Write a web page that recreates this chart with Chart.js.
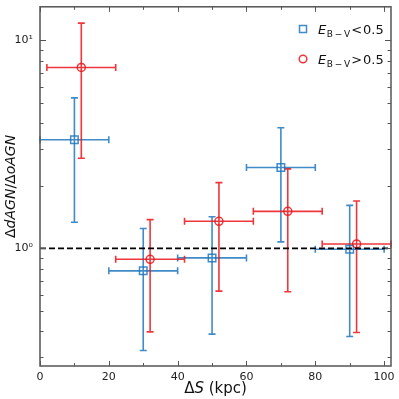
<!DOCTYPE html>
<html><head><meta charset="utf-8">
<script src="https://cdn.jsdelivr.net/npm/chart.js@4.4.0/dist/chart.umd.min.js"></script>
<style>html,body{margin:0;padding:0;background:#fff;}#wrap{width:399px;height:399px;}</style>
</head><body><div id="wrap"><canvas id="c" width="399" height="399"></canvas></div>
<script>
const xBlue = [10, 30, 50, 70, 90];
const yBlue = [3.33, 0.78, 0.90, 2.45, 0.99];
const yBlueLow = [1.335, 0.323, 0.387, 1.075, 0.377];
const yBlueHigh = [5.29, 1.246, 1.42, 3.80, 1.61];
const xErrBlue = [10, 10, 10, 10, 10];

const xRed = [12, 32, 52, 72, 92];
const yRed = [7.41, 0.886, 1.35, 1.507, 1.05];
const yRedLow = [2.71, 0.397, 0.623, 0.619, 0.394];
const yRedHigh = [12.1, 1.375, 2.07, 2.41, 1.69];
const xErrRed = [10, 10, 10, 10, 10];

const xTicks = [0, 20, 40, 60, 80, 100];
const xMinorTicks = [10, 30, 50, 70, 90];
const yMajorTicks = [1, 10];
const yMinorTicks = [0.3, 0.4, 0.5, 0.6, 0.7, 0.8, 0.9, 2, 3, 4, 5, 6, 7, 8, 9];
const refLine = 1;

const BLUE = 'rgba(31,119,190,0.85)';
const RED = 'rgba(235,20,25,0.85)';
const FRAME = '#555';

const blueData = xBlue.map((x, i) => ({x: x, y: yBlue[i], xe: xErrBlue[i], lo: yBlueLow[i], hi: yBlueHigh[i]}));
const redData = xRed.map((x, i) => ({x: x, y: yRed[i], xe: xErrRed[i], lo: yRedLow[i], hi: yRedHigh[i]}));

const custom = {
  id: 'custom',
  beforeDatasetsDraw(chart) {
    const ctx = chart.ctx, xs = chart.scales.x, ys = chart.scales.y;
    const cap = 3.5;
    [[blueData, BLUE], [redData, RED]].forEach(([data, col]) => {
      ctx.save();
      ctx.strokeStyle = col; ctx.lineWidth = 1.6;
      data.forEach(d => {
        const px = xs.getPixelForValue(d.x), py = ys.getPixelForValue(d.y);
        const x0 = xs.getPixelForValue(d.x - d.xe), x1 = xs.getPixelForValue(d.x + d.xe);
        const y0 = ys.getPixelForValue(d.lo), y1 = ys.getPixelForValue(d.hi);
        ctx.beginPath();
        ctx.moveTo(x0, py); ctx.lineTo(x1, py);
        ctx.moveTo(px, y0); ctx.lineTo(px, y1);
        ctx.moveTo(x0, py - cap); ctx.lineTo(x0, py + cap);
        ctx.moveTo(x1, py - cap); ctx.lineTo(x1, py + cap);
        ctx.moveTo(px - cap, y0); ctx.lineTo(px + cap, y0);
        ctx.moveTo(px - cap, y1); ctx.lineTo(px + cap, y1);
        ctx.stroke();
      });
      ctx.restore();
    });
  },
  afterDraw(chart) {
    const ctx = chart.ctx, xs = chart.scales.x, ys = chart.scales.y, a = chart.chartArea;
    ctx.save();
    ctx.strokeStyle = FRAME; ctx.lineWidth = 1.5;
    ctx.strokeRect(a.left, a.top, a.right - a.left, a.bottom - a.top);
    ctx.lineWidth = 1;
    ctx.beginPath();
    const tx = (vals, len) => vals.forEach(v => {
      const p = Math.round(xs.getPixelForValue(v)) + 0.5;
      ctx.moveTo(p, a.bottom); ctx.lineTo(p, a.bottom - len);
      ctx.moveTo(p, a.top); ctx.lineTo(p, a.top + len);
    });
    const ty = (vals, len) => vals.forEach(v => {
      const p = Math.round(ys.getPixelForValue(v)) + 0.5;
      ctx.moveTo(a.left, p); ctx.lineTo(a.left + len, p);
      ctx.moveTo(a.right, p); ctx.lineTo(a.right - len, p);
    });
    tx(xTicks, 5); tx(xMinorTicks, 3);
    ty(yMajorTicks, 6); ty(yMinorTicks, 3.5);
    ctx.stroke();

    ctx.fillStyle = '#111';
    ctx.textBaseline = 'alphabetic';
    const parts = [['Δ', '15px "DejaVu Sans"'], ['S', 'italic 15px "DejaVu Sans"'], [' (kpc)', '15px "DejaVu Sans"']];
    let w = 0; parts.forEach(p => { ctx.font = p[1]; w += ctx.measureText(p[0]).width; });
    let x = (a.left + a.right) / 2 - w / 2;
    parts.forEach(p => { ctx.font = p[1]; ctx.fillText(p[0], x, 393); x += ctx.measureText(p[0]).width; });
    const yparts = [['Δ', '14px "DejaVu Sans"'], ['dAGN', 'italic 14px "DejaVu Sans"'], ['/', '14px "DejaVu Sans"'], ['Δ', '14px "DejaVu Sans"'], ['oAGN', 'italic 14px "DejaVu Sans"']];
    ctx.save();
    ctx.translate(15, (a.top + a.bottom) / 2);
    ctx.rotate(-Math.PI / 2);
    w = 0; yparts.forEach(p => { ctx.font = p[1]; w += ctx.measureText(p[0]).width; });
    x = -w / 2;
    yparts.forEach(p => { ctx.font = p[1]; ctx.fillText(p[0], x, 0); x += ctx.measureText(p[0]).width; });
    ctx.restore();

    const entries = [[BLUE, 'rect', '<', 29], [RED, 'circle', '>', 59]];
    entries.forEach(([col, shape, op, ly]) => {
      ctx.strokeStyle = col; ctx.lineWidth = 1.5;
      if (shape === 'rect') { ctx.strokeRect(299.5, ly - 3.5, 7, 7); }
      else { ctx.beginPath(); ctx.arc(303, ly, 3.8, 0, Math.PI * 2); ctx.stroke(); }
      ctx.fillStyle = '#111';
      let lx = 318;
      ctx.font = 'italic 13px "DejaVu Sans"';
      ctx.fillText('E', lx, ly + 5); lx += ctx.measureText('E').width + 0.5;
      ctx.font = '9px "DejaVu Sans"';
      ctx.fillText('B\u2009\u2212\u2009V', lx, ly + 8); lx += ctx.measureText('B\u2009\u2212\u2009V').width + 1;
      ctx.font = '13px "DejaVu Sans"';
      ctx.fillText(op, lx, ly + 5); lx += ctx.measureText(op).width + 1;
      ctx.fillText('0.5', lx, ly + 5);
    });
    ctx.restore();
  }
};

new Chart(document.getElementById('c'), {
  type: 'scatter',
  data: {
    datasets: [
      {label: 'blue', data: blueData, pointStyle: 'rect', pointRadius: 5.3, pointHoverRadius: 5.3, borderColor: BLUE, backgroundColor: 'rgba(0,0,0,0)', borderWidth: 1.5, order: 2},
      {label: 'red', data: redData, pointStyle: 'circle', pointRadius: 4, pointHoverRadius: 4, borderColor: RED, backgroundColor: 'rgba(0,0,0,0)', borderWidth: 1.5, order: 1},
      {type: 'line', label: 'ref', data: [{x: 0, y: refLine}, {x: 102, y: refLine}], borderColor: '#000', borderWidth: 1.6, borderDash: [6, 3], pointRadius: 0, order: 0}
    ]
  },
  options: {
    responsive: false, animation: false, events: [],
    layout: {padding: {top: 0, right: 8, left: 0, bottom: 0}},
    plugins: {legend: {display: false}, tooltip: {enabled: false}},
    scales: {
      x: {
        type: 'linear', min: 0, max: 102,
        afterBuildTicks: s => { s.ticks = xTicks.map(v => ({value: v})); },
        afterFit: s => { s.height = 33; s.paddingLeft = 0; s.paddingRight = 0; },
        grid: {display: false, drawTicks: false},
        border: {display: false},
        ticks: {padding: 5, color: '#222', font: {family: 'DejaVu Sans', size: 11}, maxRotation: 0}
      },
      y: {
        type: 'logarithmic', min: 0.272, max: 14.5,
        afterBuildTicks: s => { s.ticks = yMajorTicks.map(v => ({value: v, major: true})); },
        afterFit: s => { s.width = 40; s.paddingTop = 0; s.paddingBottom = 0; },
        grid: {display: false, drawTicks: false},
        border: {display: false},
        ticks: {padding: 7, color: '#222', font: {family: 'DejaVu Sans', size: 11}, autoSkip: false,
          callback: v => v === 1 ? '10\u2070' : (v === 10 ? '10\u00b9' : '')}
      }
    }
  },
  plugins: [custom]
});
</script></body></html>
